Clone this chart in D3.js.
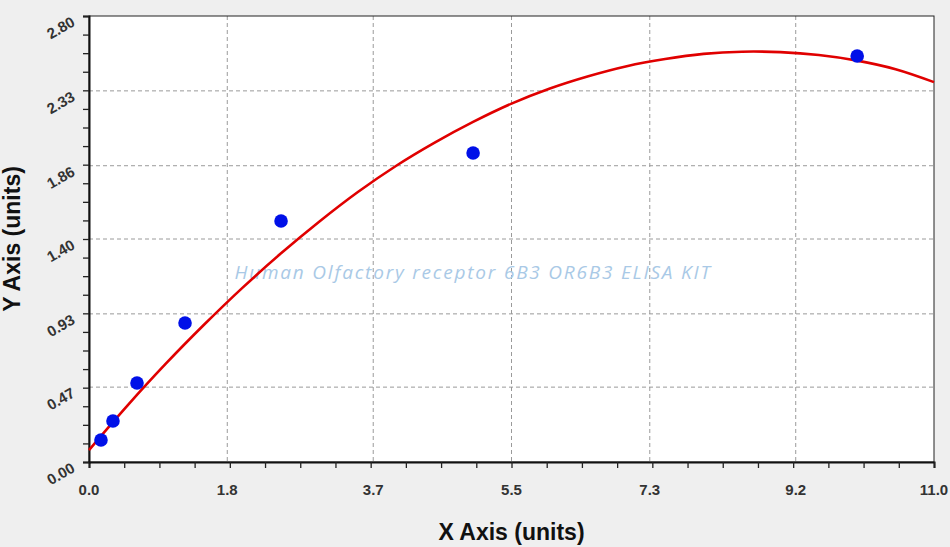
<!DOCTYPE html>
<html>
<head>
<meta charset="utf-8">
<script src="https://cdn.jsdelivr.net/npm/d3@7"></script>
<style>
  body { margin: 0; background: #efefef; }
  svg { display: block; }
</style>
</head>
<body>
<svg id="chart" width="950" height="547"></svg>
<script>
// measured standards
const pointX = [0.156, 0.312, 0.625, 1.25, 2.5, 5, 10];
const pointY = [0.138, 0.257, 0.496, 0.873, 1.513, 1.94, 2.549];

// fitted curve
const curveX = [0, 0.5, 1, 1.5, 2, 2.5, 3, 3.5, 4, 4.5, 5, 5.5, 6, 6.5, 7, 7.5, 8, 8.5, 9, 9.5, 10, 10.5, 11];
const curveY = [0.075, 0.354, 0.617, 0.863, 1.095, 1.31, 1.51, 1.695, 1.86, 2.005, 2.135, 2.25, 2.345, 2.422, 2.485, 2.53, 2.562, 2.576, 2.573, 2.555, 2.520, 2.466, 2.385];

const xTicks = [0, 1.8, 3.7, 5.5, 7.3, 9.2, 11.0];
const yTicks = [0, 0.47, 0.93, 1.40, 1.86, 2.33, 2.80];
const xTickLabels = ['0.0', '1.8', '3.7', '5.5', '7.3', '9.2', '11.0'];
const yTickLabels = ['0.00', '0.47', '0.93', '1.40', '1.86', '2.33', '2.80'];

const svg = d3.select('#chart');
const margin = { left: 89, top: 16, right: 16, bottom: 85 };
const width = 950 - margin.left - margin.right;
const height = 547 - margin.top - margin.bottom;

const x = d3.scaleLinear().domain([0, 11]).range([0, width]);
const y = d3.scaleLinear().domain([0, 2.8]).range([height, 0]);

const g = svg.append('g').attr('transform', `translate(${margin.left},${margin.top})`);

// plot background
g.append('rect')
    .attr('width', width)
    .attr('height', height)
    .attr('fill', '#fff');

// grid
g.append('g').selectAll('line')
    .data(xTicks.slice(1, -1))
    .join('line')
    .attr('x1', d => x(d)).attr('x2', d => x(d))
    .attr('y1', 0).attr('y2', height)
    .attr('stroke', '#9a9a9a')
    .attr('stroke-dasharray', '4,3');

g.append('g').selectAll('line')
    .data(yTicks.slice(1, -1))
    .join('line')
    .attr('y1', d => y(d)).attr('y2', d => y(d))
    .attr('x1', 0).attr('x2', width)
    .attr('stroke', '#9a9a9a')
    .attr('stroke-dasharray', '4,3');

// watermark
g.append('text')
    .attr('x', x(5.0))
    .attr('y', y(1.15))
    .attr('text-anchor', 'middle')
    .attr('font-family', '"Open Sans", Lato, sans-serif')
    .attr('font-style', 'italic')
    .attr('font-size', 19)
    .attr('letter-spacing', 1.8)
    .attr('fill', '#a9c9e6')
    .text('Human Olfactory receptor 6B3 OR6B3 ELISA KIT');

// frame
g.append('rect')
    .attr('width', width)
    .attr('height', height)
    .attr('fill', 'none')
    .attr('stroke', '#222')
    .attr('stroke-width', 1);

// minor ticks every quarter of a major step
const xMinor = d3.range(0, 25).map(i => i * 11 / 24);
const yMinor = d3.range(0, 25).map(i => i * 2.8 / 24);

const xAxis = d3.axisBottom(x)
    .tickValues(xMinor)
    .tickSize(6)
    .tickFormat('');
const xAxisG = g.append('g').attr('transform', `translate(0,${height})`).call(xAxis);

const yAxis = d3.axisLeft(y)
    .tickValues(yMinor)
    .tickSize(6)
    .tickFormat('');
const yAxisG = g.append('g').call(yAxis);

[xAxisG, yAxisG].forEach(a => {
    a.select('.domain').attr('stroke', '#111').attr('stroke-width', 2);
    a.selectAll('.tick line').attr('stroke', '#222').attr('stroke-width', 1.3);
});

// major tick labels
g.append('g').selectAll('text')
    .data(xTicks)
    .join('text')
    .attr('x', d => x(d))
    .attr('y', height + 33)
    .attr('text-anchor', 'middle')
    .attr('font-family', 'Arial, "Liberation Sans", sans-serif')
    .attr('font-weight', 'bold')
    .attr('font-size', 15)
    .attr('fill', '#333')
    .text((d, i) => xTickLabels[i]);

g.append('g').selectAll('text')
    .data(yTicks)
    .join('text')
    .attr('transform', d => `translate(-13,${y(d) + 9}) rotate(-30)`)
    .attr('text-anchor', 'end')
    .attr('font-family', 'Arial, "Liberation Sans", sans-serif')
    .attr('font-weight', 'bold')
    .attr('font-size', 15)
    .attr('fill', '#333')
    .text((d, i) => yTickLabels[i]);

// fitted curve
const line = d3.line()
    .x(d => x(d[0]))
    .y(d => y(d[1]))
    .curve(d3.curveCatmullRom);

g.append('path')
    .datum(curveX.map((v, i) => [v, curveY[i]]))
    .attr('d', line)
    .attr('fill', 'none')
    .attr('stroke', '#e00000')
    .attr('stroke-width', 2.6);

// points
g.append('g').selectAll('circle')
    .data(pointX.map((v, i) => [v, pointY[i]]))
    .join('circle')
    .attr('cx', d => x(d[0]))
    .attr('cy', d => y(d[1]))
    .attr('r', 6.8)
    .attr('fill', '#0010e8');

// axis titles
svg.append('text')
    .attr('x', margin.left + width / 2)
    .attr('y', 540)
    .attr('text-anchor', 'middle')
    .attr('font-family', 'Arial, "Liberation Sans", sans-serif')
    .attr('font-weight', 'bold')
    .attr('font-size', 23)
    .attr('fill', '#111')
    .text('X Axis (units)');

svg.append('text')
    .attr('transform', `translate(20,${margin.top + height / 2}) rotate(-90)`)
    .attr('text-anchor', 'middle')
    .attr('font-family', 'Arial, "Liberation Sans", sans-serif')
    .attr('font-weight', 'bold')
    .attr('font-size', 23)
    .attr('fill', '#111')
    .text('Y Axis (units)');
</script>
</body>
</html>
